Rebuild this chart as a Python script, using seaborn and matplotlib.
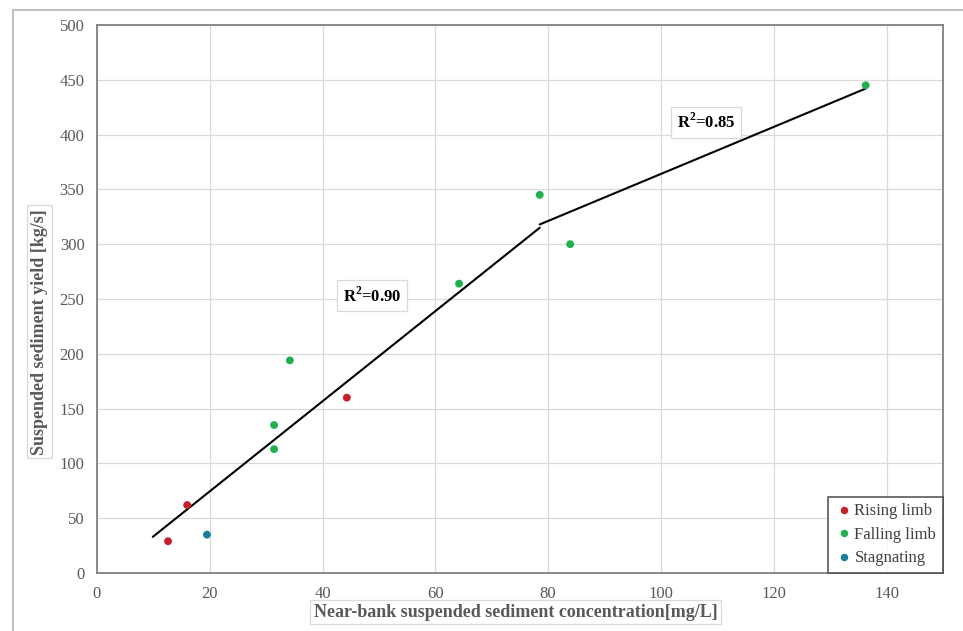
import pandas as pd
import matplotlib
matplotlib.use('Agg')
import matplotlib.pyplot as plt
import seaborn as sns
from matplotlib.patches import Rectangle

# values
conc = [12.6, 16.0, 44.3, 19.5, 31.4, 31.4, 34.2, 64.2, 78.5, 83.9, 136.3]
yield_ = [29, 62, 160, 35, 135, 113, 194, 264, 345, 300, 445]
phase = ['Rising limb', 'Rising limb', 'Rising limb', 'Stagnating',
         'Falling limb', 'Falling limb', 'Falling limb', 'Falling limb',
         'Falling limb', 'Falling limb', 'Falling limb']
phase_order = ['Rising limb', 'Falling limb', 'Stagnating']
phase_colors = ['#c51f2a', '#1fb14f', '#1a7f9a']

# fitted trend lines (two segments)
fit1_x = [9.9, 78.5]
fit1_y = [33, 315]
fit2_x = [78.5, 136.3]
fit2_y = [318, 442]
r2_labels = ['R$^2$=0.90', 'R$^2$=0.85']
r2_x = [48.8, 108.0]
r2_y = [253, 411]

df = pd.DataFrame({'conc': conc, 'yield': yield_, 'phase': phase})

sns.set_style('white')
plt.rcParams['font.family'] = ['Liberation Serif', 'DejaVu Serif']
plt.rcParams['mathtext.fontset'] = 'custom'
plt.rcParams['mathtext.rm'] = 'Liberation Serif:bold'
plt.rcParams['mathtext.bf'] = 'Liberation Serif:bold'

fig = plt.figure(figsize=(9.63, 6.31), dpi=100)
ax = fig.add_axes([0.1007, 0.0919, 0.8785, 0.8685])

fig.patches.append(Rectangle((13 / 963, -0.05), 1.0, 1.05 - 10 / 631,
                             transform=fig.transFigure, fill=False,
                             edgecolor='#c0c0c0', linewidth=1.5, zorder=0))

ax.grid(True, color='#d9d9d9', linewidth=0.9)
ax.set_axisbelow(True)

sns.lineplot(x=fit1_x, y=fit1_y, color='black', linewidth=1.5, ax=ax)
sns.lineplot(x=fit2_x, y=fit2_y, color='black', linewidth=1.5, ax=ax)

sns.scatterplot(data=df, x='conc', y='yield', hue='phase', hue_order=phase_order,
                palette=phase_colors, s=32, edgecolor='none', ax=ax, zorder=3)

for lab, xx, yy in zip(r2_labels, r2_x, r2_y):
    ax.text(xx, yy, lab, fontsize=12, fontweight='bold', ha='center', va='center',
            color='black',
            bbox=dict(boxstyle='square,pad=0.35', facecolor='white',
                      edgecolor='#d9d9d9', linewidth=0.9))

ax.set_xlim(0, 150)
ax.set_ylim(0, 500)
ax.set_xticks(range(0, 141, 20))
ax.set_yticks(range(0, 501, 50))
ax.tick_params(labelsize=12, colors='#595959', length=0, pad=9)

for s in ax.spines.values():
    s.set_color('#808080')
    s.set_linewidth(1.3)

lbl_box = dict(boxstyle='square,pad=0.2', facecolor='white', edgecolor='#d9d9d9', linewidth=0.9)
ax.set_xlabel('Near-bank suspended sediment concentration[mg/L]', fontsize=13,
              fontweight='bold', color='#595959', bbox=lbl_box)
ax.set_ylabel('Suspended sediment yield [kg/s]', fontsize=13,
              fontweight='bold', color='#595959', bbox=lbl_box)
ax.xaxis.set_label_coords(0.495, -0.056)
ax.yaxis.set_label_coords(-0.058, 0.44)

leg = ax.legend(loc='lower right', fontsize=12, frameon=True, fancybox=False,
                borderaxespad=0, handletextpad=0.1, markerscale=0.95,
                handlelength=1.1, labelspacing=0.45, borderpad=0.4)
leg.get_frame().set_edgecolor('#404040')
leg.get_frame().set_linewidth(1.3)
for t in leg.get_texts():
    t.set_color('#404040')

plt.savefig('out.png', dpi=100)
print("Saved: out.png")
